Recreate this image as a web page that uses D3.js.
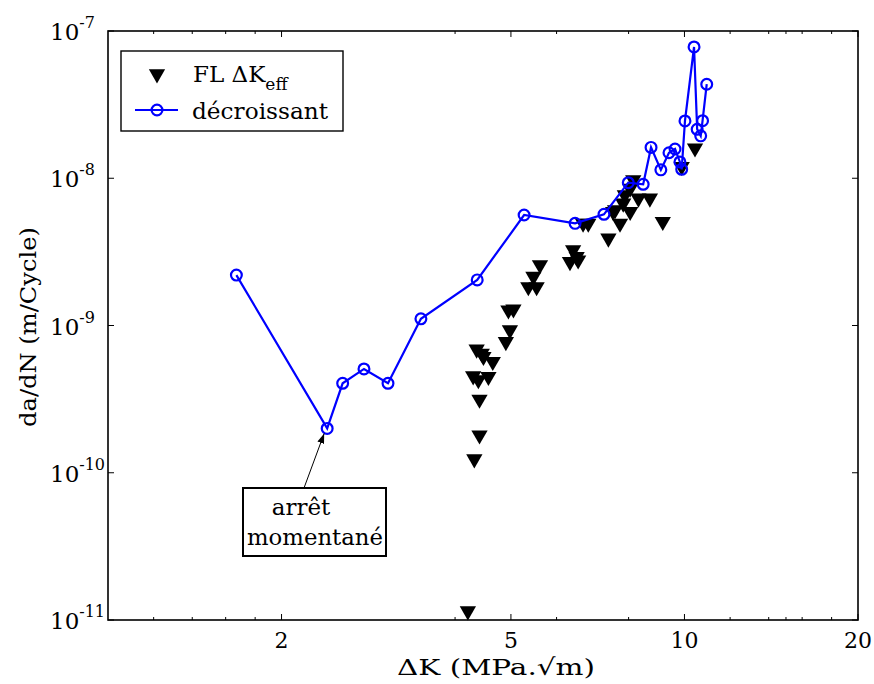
<!DOCTYPE html>
<html><head><meta charset="utf-8">
<script src="https://cdn.jsdelivr.net/npm/d3@7"></script>
<style>body{margin:0;background:#fff}svg{display:block}text{font-family:"DejaVu Serif","Liberation Serif",serif;fill:#000}</style>
</head><body>
<svg id="c" width="874" height="684"></svg>
<script>
// ---- data ----
const decroissantK = [1.67,2.40,2.553,2.78,3.06,3.49,4.37,5.27,6.46,7.25,7.99,8.48,8.75,9.10,9.40,9.63,9.82,9.89,10.02,10.39,10.52,10.67,10.75,10.93];
const decroissantRate = [2.2e-9,2.0e-10,4.05e-10,5.07e-10,4.05e-10,1.11e-9,2.04e-9,5.63e-9,4.94e-9,5.69e-9,9.33e-9,9.1e-9,1.62e-8,1.14e-8,1.49e-8,1.58e-8,1.29e-8,1.15e-8,2.45e-8,7.79e-8,2.15e-8,1.94e-8,2.46e-8,4.35e-8];
const flK = [5.615,5.47,5.36,5.54,4.95,5.05,4.98,4.90,4.36,4.45,4.48,4.65,4.30,4.39,4.57,4.41,4.41,4.32,4.21,6.41,6.50,6.33,6.54,6.67,6.81,7.38,7.58,7.52,7.73,7.83,8.05,7.88,8.15,8.05,8.32,8.71,9.17,9.89,10.43];
const flRate = [2.58e-9,2.15e-9,1.83e-9,1.83e-9,1.27e-9,1.29e-9,9.32e-10,7.76e-10,6.89e-10,6.47e-10,6.14e-10,5.68e-10,4.54e-10,4.27e-10,4.49e-10,3.15e-10,1.80e-10,1.24e-10,1.15e-11,3.26e-9,2.93e-9,2.71e-9,2.78e-9,4.94e-9,4.94e-9,3.91e-9,6.09e-9,5.93e-9,4.94e-9,6.76e-9,5.93e-9,7.69e-9,9.73e-9,8.54e-9,7.31e-9,7.31e-9,5.07e-9,1.2e-8,1.6e-8];
const xMajorTicks = [2,5,10,20];
const xMinorTicks = [1.2,1.4,1.6,1.8,4,6,8,12,14,15,16,18];
const yMajorExp = [-7,-8,-9,-10,-11];
const annotationPoint = [2.40,2.0e-10];

// ---- layout ----
const svg = d3.select("#c");
const L=108,R=858,T=31,B=620;
const x = d3.scaleLog().domain([1,20]).range([L,R]);
const y = d3.scaleLog().domain([1e-11,1e-7]).range([B,T]);

const g = svg.append("g");
const yMinor=[];
yMajorExp.forEach(e=>{ if(e>-7){ for(let k=2;k<=9;k++) yMinor.push(k*Math.pow(10,e)); }});
function tickX(v,len){
  g.append("line").attr("x1",x(v)).attr("x2",x(v)).attr("y1",B).attr("y2",B-len).attr("stroke","#000").attr("stroke-width",1);
  g.append("line").attr("x1",x(v)).attr("x2",x(v)).attr("y1",T).attr("y2",T+len).attr("stroke","#000").attr("stroke-width",1);
}
function tickY(v,len){
  g.append("line").attr("y1",y(v)).attr("y2",y(v)).attr("x1",L).attr("x2",L+len).attr("stroke","#000").attr("stroke-width",1);
  g.append("line").attr("y1",y(v)).attr("y2",y(v)).attr("x1",R).attr("x2",R-len).attr("stroke","#000").attr("stroke-width",1);
}
xMajorTicks.forEach(v=>tickX(v,6));
xMinorTicks.forEach(v=>tickX(v,3));
yMajorExp.forEach(e=>tickY(Math.pow(10,e),6));
yMinor.forEach(v=>tickY(v,3));

g.append("rect").attr("x",L).attr("y",T).attr("width",R-L).attr("height",B-T).attr("fill","none").attr("stroke","#000").attr("stroke-width",1.6);

// tick labels
xMajorTicks.forEach(v=>{
  g.append("text").attr("x",x(v)).attr("y",648).attr("text-anchor","middle").attr("font-size",22).text(v);
});
yMajorExp.forEach(e=>{
  const t=g.append("text").attr("x",50).attr("y",y(Math.pow(10,e))+9).attr("font-size",23);
  t.append("tspan").text("10");
  t.append("tspan").attr("dy",-12).attr("font-size",16).text(e);
});

// axis titles
svg.append("text").attr("x",496).attr("y",675).attr("text-anchor","middle").attr("font-size",23)
  .attr("textLength",198).attr("lengthAdjust","spacingAndGlyphs").text("ΔK (MPa.√m)");
svg.append("text").attr("transform","translate(36,327) rotate(-90)").attr("text-anchor","middle").attr("font-size",23)
  .attr("textLength",200).attr("lengthAdjust","spacingAndGlyphs").text("da/dN (m/Cycle)");

// triangles
const tri = d3.symbol().type(d3.symbolTriangle).size(115);
g.selectAll("path.fl").data(flK.map((k,i)=>[k,flRate[i]])).join("path").attr("class","fl")
  .attr("d",tri).attr("fill","#000")
  .attr("transform",d=>`translate(${x(d[0])},${y(d[1])}) rotate(180)`);

// blue line
const pts = decroissantK.map((k,i)=>[k,decroissantRate[i]]);
g.append("path").datum(pts).attr("fill","none").attr("stroke","#0000ff").attr("stroke-width",2.2)
  .attr("d",d3.line().x(d=>x(d[0])).y(d=>y(d[1])));
g.selectAll("circle.dc").data(pts).join("circle").attr("class","dc")
  .attr("cx",d=>x(d[0])).attr("cy",d=>y(d[1])).attr("r",5.4)
  .attr("fill","none").attr("stroke","#0000ff").attr("stroke-width",2.2);

// legend
const lg = svg.append("g");
lg.append("rect").attr("x",121).attr("y",51).attr("width",222).attr("height",80).attr("fill","#fff").attr("stroke","#000").attr("stroke-width",1.4);
lg.append("path").attr("d",tri).attr("fill","#000").attr("transform","translate(157,74) rotate(180)");
const t1=lg.append("text").attr("x",193).attr("y",82).attr("font-size",23);
t1.append("tspan").text("FL ΔK");
t1.append("tspan").attr("dy",8).attr("font-size",17).text("eff");
lg.append("line").attr("x1",135).attr("x2",178).attr("y1",110).attr("y2",110).attr("stroke","#0000ff").attr("stroke-width",2.2);
lg.append("circle").attr("cx",157).attr("cy",110).attr("r",5.4).attr("fill","none").attr("stroke","#0000ff").attr("stroke-width",2.2);
lg.append("text").attr("x",192).attr("y",119).attr("font-size",23).attr("textLength",136).attr("lengthAdjust","spacingAndGlyphs").text("décroissant");

// annotation
const ax = x(annotationPoint[0]), ay = y(annotationPoint[1]);
svg.append("defs").append("marker").attr("id","ah").attr("viewBox","0 0 10 10").attr("refX",10).attr("refY",5)
  .attr("markerWidth",10).attr("markerHeight",10).attr("markerUnits","userSpaceOnUse").attr("orient","auto")
  .append("path").attr("d","M0,1.5 L10,5 L0,8.5 Z").attr("fill","#000");
svg.append("line").attr("x1",304).attr("y1",488).attr("x2",ax-3).attr("y2",ay+5)
  .attr("stroke","#000").attr("stroke-width",1).attr("marker-end","url(#ah)");
svg.append("rect").attr("x",243).attr("y",488).attr("width",143).attr("height",68).attr("fill","#fff").attr("stroke","#000").attr("stroke-width",2);
svg.append("text").attr("x",301).attr("y",515).attr("text-anchor","middle").attr("font-size",23).text("arrêt");
svg.append("text").attr("x",315).attr("y",545).attr("text-anchor","middle").attr("font-size",23)
  .attr("textLength",136).attr("lengthAdjust","spacingAndGlyphs").text("momentané");
</script>
</body></html>
